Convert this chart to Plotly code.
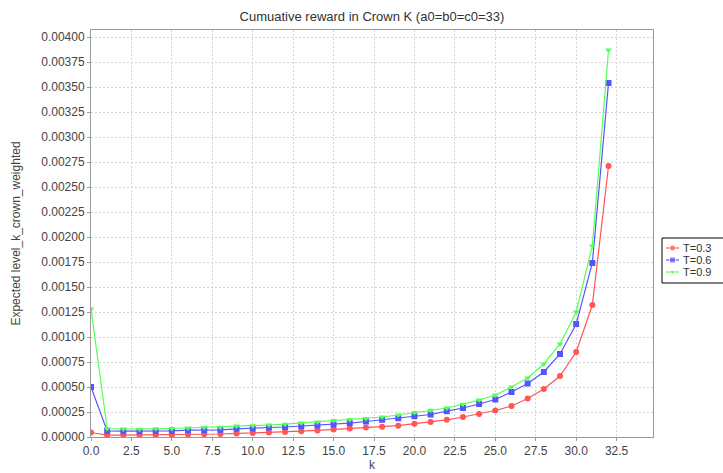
import plotly.graph_objects as go

# Crown index k and the expected weighted level for three temperatures
k_values = list(range(33))

t03_reward = [0.000045, 0.000018, 0.000018, 0.000019, 0.000020, 0.000021, 0.000026,
              0.000028, 0.000030, 0.000036, 0.000040, 0.000046, 0.000050, 0.000058,
              0.000066, 0.000075, 0.000085, 0.000095, 0.000103, 0.000113, 0.000133,
              0.000150, 0.000172, 0.000200, 0.000230, 0.000265, 0.000310, 0.000385,
              0.000480, 0.000610, 0.000850, 0.001320, 0.002710]

t06_reward = [0.000500, 0.000060, 0.000058, 0.000058, 0.000060, 0.000062, 0.000068,
              0.000070, 0.000072, 0.000082, 0.000085, 0.000095, 0.000100, 0.000108,
              0.000115, 0.000125, 0.000138, 0.000155, 0.000172, 0.000188, 0.000208,
              0.000225, 0.000258, 0.000290, 0.000330, 0.000375, 0.000450, 0.000535,
              0.000650, 0.000830, 0.001130, 0.001740, 0.003540]

t09_reward = [0.001280, 0.000085, 0.000080, 0.000078, 0.000082, 0.000085, 0.000090,
              0.000095, 0.000098, 0.000110, 0.000112, 0.000120, 0.000128, 0.000140,
              0.000150, 0.000165, 0.000175, 0.000185, 0.000200, 0.000220, 0.000245,
              0.000268, 0.000290, 0.000328, 0.000370, 0.000420, 0.000500, 0.000590,
              0.000730, 0.000930, 0.001250, 0.001910, 0.003870]

series_names = ["T=0.3", "T=0.6", "T=0.9"]
series_values = [t03_reward, t06_reward, t09_reward]
series_colors = ["#FF5555", "#5555FF", "#55FF55"]
series_symbols = ["circle", "square", "triangle-down"]

FONT = "Arial, Liberation Sans, sans-serif"
W, H = 723, 473
ML, MR, MT, MB = 91, 0, 30, 36
PLOT_RIGHT = 653                      # right edge of the data area, px
PAPER_W = W - ML - MR
PAPER_H = H - MT - MB


def px_x(p):
    return (p - ML) / PAPER_W


def px_y(p):
    return (H - MB - p) / PAPER_H


fig = go.Figure()
for name, vals, color, sym in zip(series_names, series_values, series_colors, series_symbols):
    fig.add_trace(go.Scatter(
        x=k_values, y=vals, name=name, mode="lines+markers",
        line=dict(color=color, width=1.2),
        marker=dict(symbol=sym, size=6, color=color),
        showlegend=False,
    ))

axis_common = dict(
    showline=True, linecolor="#9a9a9a", linewidth=1, mirror=True,
    ticks="outside", ticklen=3, tickcolor="#9a9a9a",
    showgrid=True, gridcolor="#d4d4d4", griddash="2px,2px", gridwidth=1,
    zeroline=False, automargin=False,
    tickfont=dict(family=FONT, size=12, color="#444444"),
)

fig.update_layout(
    xaxis=dict(
        domain=[0, px_x(PLOT_RIGHT)],
        range=[0, 34.75], dtick=2.5, tick0=0, tickformat=".1f",
        title=dict(text="k", font=dict(family=FONT, size=12, color="#444444"), standoff=2),
        **axis_common,
    ),
    yaxis=dict(
        range=[0, 0.00407], dtick=0.00025, tick0=0, tickformat=".5f",
        title=dict(text="Expected level_k_crown_weighted",
                   font=dict(family=FONT, size=12, color="#444444"), standoff=18),
        **axis_common,
    ),
)

# Legend box: rows drawn on a pixel-scaled overlay axis at the right
LEG_LEFT, LEG_TOP, LEG_BOTTOM = 662, 238, 283
row_y = [248, 260, 272]
fig.update_layout(
    xaxis2=dict(domain=[px_x(LEG_LEFT), 1], range=[LEG_LEFT, W], anchor="y2",
                visible=False, fixedrange=True),
    yaxis2=dict(domain=[px_y(LEG_BOTTOM), px_y(LEG_TOP)], range=[LEG_BOTTOM, LEG_TOP],
                anchor="x2", visible=False, fixedrange=True),
)
fig.add_shape(type="rect", xref="paper", yref="paper",
              x0=px_x(LEG_LEFT), x1=px_x(W + 20), y0=px_y(LEG_BOTTOM), y1=px_y(LEG_TOP),
              line=dict(color="#000000", width=1), fillcolor="white", layer="below")
for name, color, sym, yy in zip(series_names, series_colors, series_symbols, row_y):
    fig.add_trace(go.Scatter(
        x=[666, 672.5, 679], y=[yy, yy, yy], xaxis="x2", yaxis="y2",
        mode="lines+markers", line=dict(color=color, width=1.2),
        marker=dict(symbol=sym, size=[0, 6, 0], color=color),
        showlegend=False, hoverinfo="skip", cliponaxis=False,
    ))
    fig.add_annotation(text=name, xref="paper", yref="paper",
                       x=px_x(681), y=px_y(yy), xanchor="left", yanchor="middle",
                       showarrow=False, font=dict(family=FONT, size=11, color="#333333"))

fig.update_layout(
    width=W, height=H,
    margin=dict(l=ML, r=MR, t=MT, b=MB, autoexpand=False),
    paper_bgcolor="white", plot_bgcolor="white",
    title=dict(text="Cumuative reward in Crown K (a0=b0=c0=33)",
               font=dict(family=FONT, size=13, color="#333333"),
               x=(ML + PLOT_RIGHT) / 2 / W, xanchor="center", xref="container",
               y=1 - 16 / H, yanchor="middle"),
    showlegend=False,
)

fig.write_html("out.html")
